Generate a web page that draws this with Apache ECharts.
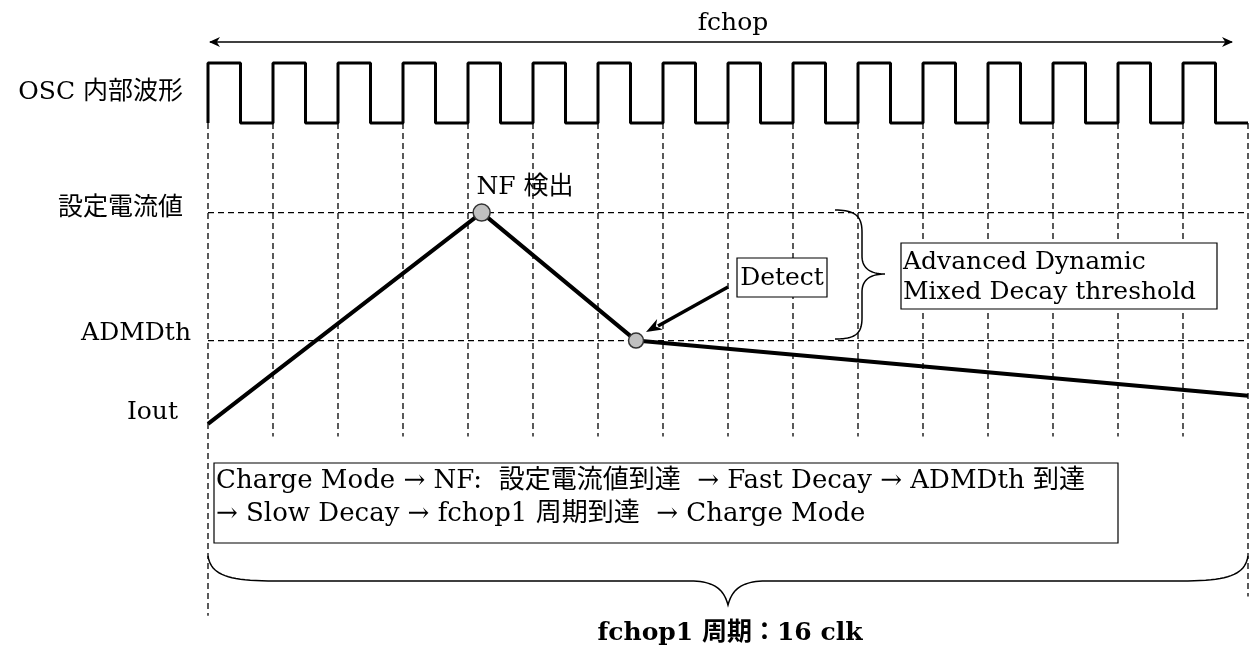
<!DOCTYPE html>
<html>
<head>
<meta charset="utf-8">
<script src="https://cdn.jsdelivr.net/npm/echarts@6.0.0/dist/echarts.min.js"></script>
<style>
  html, body { margin: 0; padding: 0; background: #fff; }
  #chart { width: 1250px; height: 653px; }
</style>
</head>
<body>
<div id="chart"></div>
<script>
// OSC clock: level of each half clock (1 = high, 0 = low), 16 clk
const oscLevels = [1, 0, 1, 0, 1, 0, 1, 0, 1, 0, 1, 0, 1, 0, 1, 0,
                   1, 0, 1, 0, 1, 0, 1, 0, 1, 0, 1, 0, 1, 0, 1, 0]
const clkCount = 16
const guideClks = [0, 1, 2, 3, 4, 5, 6, 7, 8, 9, 10, 11, 12, 13, 14, 15, 16]

// current levels (arbitrary units)
const levelNames = ['設定電流値', 'ADMDth']
const levelValues = [100, 60]

// Iout waveform
const ioutClk = [0, 4.21, 6.585, 16]
const ioutValue = [34, 100, 60, 42.8]

// detection points
const eventClk = [4.21, 6.585]
const eventValue = [100, 60]
const eventNames = ['NF 検出', '']

const FONT = '"DejaVu Serif", "Noto Sans CJK JP", serif'
const Y_MIN = -26
const Y_MAX = 128
const guideBottom = 30      // inner dashed lines stop here
const edgeBottom = [-26, -20] // first / last dashed line

const chart = echarts.init(document.getElementById('chart'), null, { renderer: 'canvas' })

// clock as step line
const oscData = [[0, 0]]
oscLevels.forEach((v, i) => oscData.push([i * clkCount / oscLevels.length, v]))
oscData.push([clkCount, 0])

const dash = { color: '#000', width: 1.3, type: [6, 4] }
const series = []

series.push({
  type: 'line', xAxisIndex: 0, yAxisIndex: 0, data: oscData, step: 'end',
  symbol: 'none', clip: false, silent: true,
  lineStyle: { color: '#000', width: 3 }
})

guideClks.forEach((c, i) => {
  let bottom = guideBottom
  if (i === 0) bottom = edgeBottom[0]
  if (i === guideClks.length - 1) bottom = edgeBottom[1]
  series.push({
    type: 'line', xAxisIndex: 1, yAxisIndex: 1, symbol: 'none', silent: true, z: 1,
    data: [[c, Y_MAX], [c, bottom]], lineStyle: dash
  })
})

levelValues.forEach(v => {
  series.push({
    type: 'line', xAxisIndex: 1, yAxisIndex: 1, symbol: 'none', silent: true, z: 1,
    data: [[0, v], [clkCount, v]], lineStyle: dash
  })
})

series.push({
  type: 'line', xAxisIndex: 1, yAxisIndex: 1, symbol: 'none', clip: false, z: 3,
  data: ioutClk.map((c, i) => [c, ioutValue[i]]),
  lineStyle: { color: '#000', width: 4 }
})

series.push({
  type: 'scatter', xAxisIndex: 1, yAxisIndex: 1, z: 4, clip: false, silent: true,
  data: eventClk.map((c, i) => ({
    value: [c, eventValue[i]],
    symbolSize: i === 0 ? 17 : 15,
    label: {
      show: eventNames[i] !== '', formatter: eventNames[i],
      position: [4, -16], align: 'left', verticalAlign: 'middle',
      color: '#000', fontSize: 25, fontFamily: FONT
    }
  })),
  itemStyle: { color: '#c0c0c0', borderColor: '#333', borderWidth: 1.5, opacity: 1 }
})

function txt(text, x, y, opt) {
  return {
    type: 'text', x: x, y: y, silent: true,
    style: Object.assign({
      text: text, fill: '#000', font: '25px ' + FONT,
      align: 'left', verticalAlign: 'middle'
    }, opt || {})
  }
}

function arrowHead(x1, y1, x2, y2, len, half) {
  const dx = x2 - x1, dy = y2 - y1
  const d = Math.sqrt(dx * dx + dy * dy)
  const ux = dx / d, uy = dy / d
  const bx = x2 - ux * len, by = y2 - uy * len
  return [[x2, y2], [bx - uy * half, by + ux * half], [x2 - ux * len * 0.7, y2 - uy * len * 0.7], [bx + uy * half, by - ux * half]]
}

// sample a chain of cubic bezier segments into polyline points
function bezierPts(start, segs) {
  const pts = [start]
  let p0 = start
  segs.forEach(s => {
    if (s.length === 1) { pts.push(s[0]); p0 = s[0]; return }
    const [c1, c2, p3] = s
    for (let t = 0.05; t <= 1.0001; t += 0.05) {
      const a = (1 - t) * (1 - t) * (1 - t), b = 3 * (1 - t) * (1 - t) * t, c = 3 * (1 - t) * t * t, d = t * t * t
      pts.push([a * p0[0] + b * c1[0] + c * c2[0] + d * p3[0], a * p0[1] + b * c1[1] + c * c2[1] + d * p3[1]])
    }
    p0 = p3
  })
  return pts
}

const rightBrace = bezierPts([835, 210], [
  [[855, 210], [862, 216], [862, 232]], [[862, 256]],
  [[862, 268], [870, 274], [885, 274]],
  [[870, 274], [862, 280], [862, 292]], [[862, 318]],
  [[862, 334], [855, 339], [835, 339]]
])
const bottomBrace = bezierPts([208, 556], [
  [[211, 575], [228, 581], [275, 581]], [[690, 581]],
  [[715, 581], [724, 590], [728, 605]],
  [[732, 590], [741, 581], [766, 581]], [[1181, 581]],
  [[1228, 581], [1245, 575], [1248, 556]]
])

const graphic = [
  // fchop arrow
  { type: 'line', silent: true, shape: { x1: 210, y1: 42, x2: 1232, y2: 42 }, style: { stroke: '#000', lineWidth: 1.5 } },
  { type: 'polygon', silent: true, shape: { points: arrowHead(1232, 42, 209, 42, 11, 5) }, style: { fill: '#000' } },
  { type: 'polygon', silent: true, shape: { points: arrowHead(209, 42, 1233, 42, 11, 5) }, style: { fill: '#000' } },
  txt('fchop', 733, 23, { align: 'center' }),

  // left labels
  txt('OSC 内部波形', 183, 92, { align: 'right' }),
  txt(levelNames[0], 183, 208, { align: 'right' }),
  txt(levelNames[1], 191, 333, { align: 'right' }),
  txt('Iout', 178, 412, { align: 'right' }),

  // Detect box + arrow
  { type: 'rect', silent: true, z: 10, shape: { x: 737, y: 258, width: 90, height: 39 }, style: { fill: '#fff', stroke: '#000', lineWidth: 1.2 } },
  Object.assign(txt('Detect', 782, 278, { align: 'center' }), { z: 11 }),
  { type: 'line', silent: true, z: 10, shape: { x1: 728, y1: 287, x2: 658, y2: 326 }, style: { stroke: '#000', lineWidth: 3.5 } },
  { type: 'polygon', silent: true, z: 10, shape: { points: arrowHead(728, 287, 646, 332, 16, 6) }, style: { fill: '#000' } },

  // right brace
  { type: 'polyline', silent: true, z: 10, shape: { points: rightBrace }, style: { fill: null, stroke: '#000', lineWidth: 1.5 } },

  // threshold box
  { type: 'rect', silent: true, z: 10, shape: { x: 901, y: 243, width: 316, height: 66 }, style: { fill: '#fff', stroke: '#000', lineWidth: 1.2 } },
  Object.assign(txt('Advanced Dynamic\nMixed Decay threshold', 903, 277, { lineHeight: 30 }), { z: 11 }),

  // sequence box
  { type: 'rect', silent: true, z: 10, shape: { x: 214, y: 463, width: 904, height: 80 }, style: { fill: '#fff', stroke: '#000', lineWidth: 1.2 } },
  Object.assign(txt('Charge Mode → NF:  設定電流値到達  → Fast Decay → ADMDth 到達\n→ Slow Decay → fchop1 周期到達  → Charge Mode', 216, 498,
    { lineHeight: 33, font: '26px ' + FONT }), { z: 11 }),

  // bottom brace
  { type: 'polyline', silent: true, z: 10, shape: { points: bottomBrace }, style: { fill: null, stroke: '#000', lineWidth: 1.5 } },
  txt('fchop1 周期：16 clk', 730, 633, { align: 'center', font: 'bold 25px ' + FONT })
]

chart.setOption({
  animation: false,
  backgroundColor: '#fff',
  grid: [
    { left: 208, right: 2, top: 63, height: 60 },
    { left: 208, right: 2, top: 123, height: 492.8 }
  ],
  xAxis: [
    { type: 'value', gridIndex: 0, min: 0, max: clkCount, show: false },
    { type: 'value', gridIndex: 1, min: 0, max: clkCount, show: false }
  ],
  yAxis: [
    { type: 'value', gridIndex: 0, min: 0, max: 1, show: false },
    { type: 'value', gridIndex: 1, min: Y_MIN, max: Y_MAX, show: false }
  ],
  series: series,
  graphic: graphic
})
</script>
</body>
</html>
